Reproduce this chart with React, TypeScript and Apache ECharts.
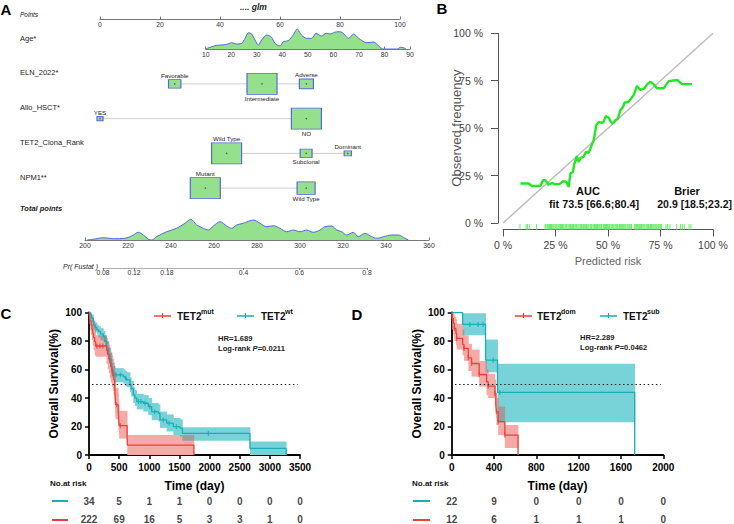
import React, { useEffect, useRef } from "react";
import * as echarts from "echarts";

const FONT = "'Liberation Sans', Arial, Helvetica, sans-serif";

// ---------------- Panel A : nomogram ----------------
const pointsRange = [0, 100];
const ageRange = [10, 90];
const totalRange = [200, 360];
const ageX = [10, 11.7, 14.3, 16.3, 18.2, 20.2, 22.1, 24.1, 25.4, 26.7, 28, 29.3, 30.6, 31.9, 33.9, 35.8, 37.1, 39.1, 40.4, 42.3, 44.3, 45.8, 47.5, 49.5, 51.4, 53.3, 55.3, 57.2, 58.7, 60.4, 62.3, 63.6, 66.0, 67.9, 69.9, 73.1, 75.7, 78.3, 79.6, 85.0, 86.3, 87.5, 88.5];
const ageDensity = [0, 1.7, 3.7, 4, 4.7, 6.3, 5, 5.7, 10.7, 16.3, 15, 9, 4, 9, 14, 11.7, 5.7, 3, 7.3, 8.3, 14, 20, 14, 10.7, 10.7, 15.7, 13, 15.7, 15, 16.7, 17.3, 16.3, 10.7, 15, 10.7, 6.3, 7, 1.5, 0, 0, 1.7, 1.2, 0];
const totalX = [201, 204.7, 208.5, 213.2, 218.6, 222.5, 224.8, 227.1, 229.5, 231, 233.3, 238, 242.6, 246.5, 249.2, 252, 255, 257.4, 259.7, 262.8, 265.9, 268.2, 270.5, 273.6, 278.3, 281.4, 284.5, 287.6, 290.7, 293.8, 296.9, 300, 303.1, 306.2, 309.3, 311.6, 314.7, 317.1, 319.4, 321.7, 324.8, 327.1, 330.2, 333.3, 335.7, 338.8, 342.6, 345.7, 348.8, 350.4];
const totalDensity = [0, 1, 2.3, 1.3, 1.7, 5, 7.7, 5, 0.7, 0, 3.3, 8.3, 11.7, 16.7, 20.7, 15, 11.7, 10, 14, 18.3, 14, 11.7, 15, 16.7, 20, 16.7, 13.3, 14.3, 11.7, 8.3, 10, 8.3, 10, 7.7, 10, 13.3, 14, 10, 8.3, 5, 7.7, 3.3, 6.7, 3.3, 1.7, 3.3, 5, 5, 1.7, 0];

const nomoRows = ["ELN_2022*", "Allo_HSCT*", "TET2_Clona_Rank", "NPM1**"];
const elnLevels = ["Favorable", "Intermediate", "Adverse"];
const elnPoints = [24.9, 54, 68.8];
const elnCounts = [31, 183, 40];
const alloLevels = ["YES", "NO"];
const alloPoints = [0, 68.8];
const alloCounts = [10, 246];
const tet2Levels = ["Wild Type", "Subclonal", "Dominant"];
const tet2Points = [42.2, 68.7, 82.6];
const tet2Counts = [222, 35, 13];
const npm1Levels = ["Mutant", "Wild Type"];
const npm1Points = [35.1, 68.7];
const npm1Counts = [188, 68];
const prTicks = [0.08, 0.12, 0.18, 0.4, 0.6, 0.8];

// ---------------- Panel B : calibration ----------------
const calibPred = [8.3, 12.2, 13.8, 17.8, 19.0, 20.2, 21.7, 23.3, 24.9, 27.0, 28.6, 30.2, 31.3, 32.1, 33.3, 34.0, 35.2, 36.0, 37.1, 38.4, 39.5, 40.8, 41.9, 43.2, 44.4, 45.6, 47.1, 47.9, 48.9, 50.3, 51.4, 52.4, 53.5, 54.6, 55.9, 57.0, 57.9, 59.8, 62.2, 63.8, 65.4, 67.3, 68.6, 70.2, 71.7, 73.3, 76.5, 78.9, 82.9, 85.2, 90.0];
const calibObs = [20.8, 20.8, 19.5, 19.5, 22.5, 22.5, 20.2, 21.1, 20.4, 20.6, 22.0, 21.7, 19.0, 26.1, 26.9, 31.3, 35.2, 32.2, 34.5, 34.9, 37.5, 37.0, 40.1, 43.7, 51.6, 53.3, 52.8, 53.3, 56.3, 55.6, 53.3, 52.5, 54.2, 54.8, 59.5, 60.9, 63.4, 63.9, 67.4, 72.2, 70.1, 71.0, 73.1, 74.5, 73.2, 71.0, 71.0, 74.8, 75.4, 73.2, 73.2];
const rugPred = [8.1, 11.0, 11.7, 12.7, 16.0, 20.0, 20.5, 21.1, 21.6, 22.2, 22.6, 23.1, 23.7, 24.2, 24.8, 25.3, 25.7, 26.3, 26.8, 27.4, 27.9, 28.3, 28.9, 29.5, 30.0, 30.4, 31.0, 31.6, 32.1, 32.5, 33.1, 33.6, 34.2, 34.7, 35.1, 35.7, 36.2, 36.8, 37.3, 37.7, 38.3, 38.9, 39.4, 39.8, 40.4, 40.9, 41.5, 42.0, 42.4, 43.0, 43.6, 44.1, 44.6, 45.0, 45.6, 46.1, 46.6, 47.0, 47.8, 48.3, 48.8, 49.3, 49.7, 50.3, 50.8, 51.4, 51.9, 52.3, 52.8, 53.4, 53.9, 54.4, 54.8, 55.4, 55.9, 56.5, 57.0, 57.5, 58.0, 58.5, 59.1, 59.6, 60.1, 60.6, 61.2, 62.5, 63.0, 63.5, 64.0, 64.6, 65.1, 65.6, 66.0, 66.6, 67.1, 67.6, 68.2, 68.7, 69.2, 69.6, 70.2, 70.7, 71.3, 71.8, 72.3, 72.8, 73.3, 73.9, 74.4, 74.9, 75.5, 77.6, 78.4, 79.5, 82.7, 84.6, 85.4, 86.3, 88.6, 89.5];

// ---------------- Panel C : KM TET2mut vs TET2wt ----------------
const redCTimes = [0, 10, 20, 35, 50, 62, 75, 95, 110, 290, 310, 330, 345, 360, 380, 395, 410, 425, 428, 431, 434, 437, 440, 485, 490, 495, 500, 632, 636, 1740];
const redCSurv = [100, 97.1, 94.1, 91.2, 88.2, 85.3, 82.4, 79.4, 76.5, 73.5, 70.6, 67.6, 64.7, 61.8, 58.8, 55.9, 52.9, 50.0, 47.1, 44.1, 41.2, 38.2, 35.3, 31.4, 27.5, 23.5, 20.6, 13.7, 6.9, 0];
const redCUpper = [100, 100, 99.5, 98.5, 97, 95.5, 93.5, 91.5, 84, 82, 80, 77.5, 75, 72.5, 70, 67.5, 65, 62.5, 59.5, 56.5, 53.5, 50.5, 47, 43, 39, 35, 31, 22, 14, 0];
const redCLower = [100, 92, 87.5, 84, 80.5, 77, 73.5, 70, 69, 64, 60.5, 57.5, 54, 51, 48, 45, 42, 39, 36, 33, 30, 27, 25, 21, 17.5, 14, 11.5, 6, 0, 0];
const cyanCTimes = [0, 20, 40, 72, 100, 130, 155, 190, 238, 265, 293, 320, 348, 376, 400, 431, 569, 600, 625, 680, 700, 735, 760, 791, 901, 984, 1040, 1150, 1177, 1288, 1399, 1509, 1550, 2670, 3270];
const cyanCSurv = [100, 98.5, 96, 91.4, 89.5, 88, 86.7, 85, 83.1, 80, 75, 71, 66.8, 59.7, 57.5, 56.2, 55, 53.8, 52.7, 49.2, 46.5, 42.2, 40, 37.5, 36.3, 34, 30.4, 29.3, 24.6, 22.3, 19.9, 18.8, 15.2, 4.7, 0];
const cyanCUpper = [100, 100, 98.5, 94.5, 93, 91.5, 90.5, 89, 87, 84, 79.5, 75.5, 71.5, 64.5, 62.5, 61, 60, 59, 58, 54.5, 52, 47.5, 45.5, 43, 42, 40, 36.5, 35.5, 30.5, 28.5, 26, 25, 19.5, 9.5, 0];
const cyanCLower = [100, 96.5, 93.5, 88, 86, 84.5, 82.5, 80.5, 79, 76, 70.5, 66.5, 62, 55, 52.5, 51, 50, 48.5, 47.5, 44, 41, 36.5, 34.5, 32, 30.5, 28, 24.5, 23.5, 19, 16.5, 14, 13, 10, 0, 0];
const redCCensor = [[130, 76.5], [180, 76.5], [230, 76.5], [385, 58.8], [460, 35.3], [520, 20.6]];
const cyanCCensor = [[450, 56.2], [520, 56.2], [610, 53.8], [820, 37.5], [860, 37.5], [930, 36.3], [1010, 34], [1090, 30.4], [1230, 24.6], [1330, 22.3], [1450, 19.9], [1980, 15.2]];
const riskTimesC = [0, 500, 1000, 1500, 2000, 2500, 3000, 3500];
const riskCyanC = [34, 5, 1, 1, 0, 0, 0, 0];
const riskRedC = [222, 69, 16, 5, 3, 3, 1, 0];

// ---------------- Panel D : KM TET2dom vs TET2sub ----------------
const redDTimes = [0, 6, 16, 25, 40, 47, 103, 116, 157, 188, 260, 329, 345, 408, 417, 423, 439, 502, 627];
const redDSurv = [100, 95.8, 92.3, 88.8, 85.3, 81.8, 77.6, 74.8, 68.2, 64.2, 56.5, 51.4, 48.3, 43.2, 35, 30.4, 23.4, 14, 0];
const redDUpper = [100, 100, 99, 97, 95, 92, 88, 84, 78, 74, 66, 60, 57, 53, 44, 40, 34, 21, 0];
const redDLower = [100, 88, 84, 80, 77, 74, 70, 66, 59, 55, 48, 42, 40, 35, 26, 21, 14, 5, 0];
const cyanDTimes = [0, 103, 320, 433, 1730];
const cyanDSurv = [100, 91.6, 66.6, 43.9, 0];
const cyanDUpper = [100, 99.5, 81, 64, 0];
const cyanDLower = [100, 84, 58, 23, 0];
const redDCensor = [[6, 95.8], [25, 88.8], [47, 81.8], [116, 74.8], [157, 68.2], [188, 64.2], [260, 56.5], [345, 48.3], [408, 43.2], [423, 30.4], [439, 23.4], [502, 14]];
const cyanDCensor = [[172, 91.6], [250, 91.6], [297, 91.6], [392, 66.6], [455, 43.9]];
const riskTimesD = [0, 400, 800, 1200, 1600, 2000];
const riskCyanD = [22, 9, 0, 0, 0, 0];
const riskRedD = [12, 6, 1, 1, 1, 0];

// ---------------- helpers ----------------
const RED = "#ee3f38";
const CYAN = "#18adb8";
const RED_BAND = "#f4aaa6";
const CYAN_BAND = "#78d3d9";
const OVERLAP = "#9c9c9c";
const BOX_FILL = "#94e08c";
const BOX_EDGE = "#5566e6";

const logit = (p: number) => Math.log(p / (1 - p));

function stepAt(times: number[], vals: number[], t: number) {
  let v = vals[0];
  for (let i = 0; i < times.length; i++) {
    if (times[i] <= t) v = vals[i];
    else break;
  }
  return v;
}
function bandData(times: number[], lo: number[], hi: number[]) {
  const out: number[][] = [];
  for (let i = 0; i < times.length - 1; i++) out.push([times[i], times[i + 1], lo[i], hi[i]]);
  return out;
}
function overlapData(tA: number[], loA: number[], hiA: number[], tB: number[], loB: number[], hiB: number[]) {
  const end = Math.min(tA[tA.length - 1], tB[tB.length - 1]);
  const bps = Array.from(new Set([...tA, ...tB])).filter((t) => t <= end).sort((a, b) => a - b);
  const out: number[][] = [];
  for (let i = 0; i < bps.length - 1; i++) {
    const t0 = bps[i];
    const lo = Math.max(stepAt(tA, loA, t0), stepAt(tB, loB, t0));
    const hi = Math.min(stepAt(tA, hiA, t0), stepAt(tB, hiB, t0));
    if (hi > lo) out.push([t0, bps[i + 1], lo, hi]);
  }
  return out;
}
function bandSeries(idx: number, data: number[][], color: string) {
  return {
    type: "custom",
    xAxisIndex: idx,
    yAxisIndex: idx,
    silent: true,
    encode: { x: [0, 1], y: [2, 3] },
    data,
    renderItem: (_p: any, api: any) => {
      const a = api.coord([api.value(0), api.value(3)]);
      const b = api.coord([api.value(1), api.value(2)]);
      return {
        type: "rect",
        shape: { x: a[0], y: a[1], width: b[0] - a[0] + 0.4, height: b[1] - a[1] },
        style: { fill: color },
      };
    },
  };
}
function kmLine(idx: number, times: number[], surv: number[], color: string, extra: any = {}) {
  return {
    type: "line",
    xAxisIndex: idx,
    yAxisIndex: idx,
    step: "end",
    symbol: "none",
    silent: true,
    data: times.map((t, i) => [t, surv[i]]),
    lineStyle: { color, width: 1.3 },
    ...extra,
  };
}
function censorSeries(idx: number, data: number[][], color: string) {
  return {
    type: "scatter",
    xAxisIndex: idx,
    yAxisIndex: idx,
    silent: true,
    symbol: "rect",
    symbolSize: [1.3, 5],
    itemStyle: { color },
    data,
  };
}
function riskSeries(idx: number, times: number[], vals: number[], row: string) {
  return {
    type: "scatter",
    xAxisIndex: idx,
    yAxisIndex: idx,
    silent: true,
    symbolSize: 1,
    itemStyle: { color: "rgba(0,0,0,0)" },
    encode: { x: 0, y: 1 },
    data: times.map((t, i) => [t, row, vals[i]]),
    label: {
      show: true,
      position: "inside",
      fontSize: 10,
      fontWeight: "bold",
      color: "#111",
      fontFamily: FONT,
      formatter: (p: any) => String(p.value[2]),
    },
  };
}
const hiddenX = (g: number, min: number, max: number) => ({ gridIndex: g, type: "value", min, max, show: false });
const hiddenY = (g: number, min: number, max: number) => ({ gridIndex: g, type: "value", min, max, show: false });

const nomoAxis = (g: number, min: number, max: number, interval: number) => ({
  gridIndex: g,
  type: "value",
  min,
  max,
  interval,
  axisLine: { show: true, onZero: false, lineStyle: { color: "#555", width: 0.8 } },
  axisTick: { show: true, inside: true, length: 2.5, lineStyle: { color: "#555", width: 0.8 } },
  axisLabel: { fontSize: 6.8, color: "#333", margin: 1.5, fontFamily: FONT, formatter: (v: number) => String(v) },
  splitLine: { show: false },
});

const kmX = (g: number, max: number, interval: number) => ({
  gridIndex: g,
  type: "value",
  min: 0,
  max,
  interval,
  axisLine: { show: true, onZero: false, lineStyle: { color: "#000", width: 1.8 } },
  axisTick: { show: true, length: 4, lineStyle: { color: "#000", width: 1.5 } },
  axisLabel: { fontSize: 10, fontWeight: "bold", color: "#000", margin: 7, fontFamily: FONT, formatter: (v: number) => String(v) },
  splitLine: { show: false },
  name: "Time (day)",
  nameLocation: "middle",
  nameGap: 25,
  nameMoveOverlap: false,
  nameTextStyle: { fontSize: 12, fontWeight: "bold", color: "#000", fontFamily: FONT },
});
const kmY = (g: number) => ({
  gridIndex: g,
  type: "value",
  min: 0,
  max: 100,
  interval: 20,
  axisLine: { show: true, onZero: false, lineStyle: { color: "#000", width: 1.8 } },
  axisTick: { show: true, length: 4, lineStyle: { color: "#000", width: 1.5 } },
  axisLabel: { fontSize: 10, fontWeight: "bold", color: "#000", margin: 7, fontFamily: FONT, formatter: (v: number) => String(v) },
  splitLine: { show: false },
  name: "Overall Survival(%)",
  nameLocation: "middle",
  nameGap: 29,
  nameMoveOverlap: false,
  nameTextStyle: { fontSize: 12, fontWeight: "bold", color: "#000", fontFamily: FONT },
});

function txt(x: number, y: number, text: string, o: any = {}) {
  return {
    type: "text",
    x,
    y,
    silent: true,
    style: {
      text,
      fontFamily: FONT,
      fontSize: o.fs ?? 8,
      fontWeight: o.fw ?? "normal",
      fontStyle: o.fi ?? "normal",
      fill: o.c ?? "#222",
      align: o.a ?? "left",
      verticalAlign: "middle",
      rich: o.rich,
    },
  };
}
function seg(x1: number, y1: number, x2: number, y2: number, color: string, w = 1.5) {
  return { type: "line", silent: true, shape: { x1, y1, x2, y2 }, style: { stroke: color, lineWidth: w } };
}

function buildOption() {
  // nomogram boxes
  const levelSets = [
    { levels: elnLevels, pts: elnPoints, n: elnCounts },
    { levels: alloLevels, pts: alloPoints, n: alloCounts },
    { levels: tet2Levels, pts: tet2Points, n: tet2Counts },
    { levels: npm1Levels, pts: npm1Points, n: npm1Counts },
  ];
  const boxes: any[] = [];
  const dots: any[] = [];
  const connectors: any[] = [];
  levelSets.forEach((s, r) => {
    const maxN = Math.max(...s.n);
    s.levels.forEach((lv, i) => {
      const k = Math.sqrt(s.n[i] / maxN);
      boxes.push({
        value: [s.pts[i], nomoRows[r]],
        symbolSize: [30 * k, 21 * k],
        label: { position: i % 2 === 0 ? "top" : "bottom", formatter: lv },
      });
      dots.push([s.pts[i], nomoRows[r]]);
    });
    connectors.push({
      type: "line",
      xAxisIndex: 2,
      yAxisIndex: 2,
      silent: true,
      symbol: "none",
      z: 1,
      lineStyle: { color: "#cfcfcf", width: 1 },
      data: [
        [Math.min(...s.pts), nomoRows[r]],
        [Math.max(...s.pts), nomoRows[r]],
      ],
    });
  });

  const grids = [
    { left: 100, top: 18, width: 300, height: 1 },
    { left: 205.7, top: 29, width: 204.3, height: 20 },
    { left: 100, top: 66.5, width: 300, height: 139 },
    { left: 85, top: 219, width: 344, height: 21 },
    { left: 103, top: 267, width: 264, height: 1 },
    { left: 503, top: 33.3, width: 210, height: 189.7 },
    { left: 503, top: 224, width: 210, height: 6 },
    { left: 89, top: 312.5, width: 211, height: 142.5 },
    { left: 89, top: 492, width: 211, height: 37 },
    { left: 451.7, top: 312.5, width: 211.6, height: 142.5 },
    { left: 451.7, top: 492, width: 211.6, height: 37 },
  ].map((g) => ({ ...g, containLabel: false, outerBoundsMode: "none" }));

  const prAxis = {
    gridIndex: 4,
    type: "value",
    min: logit(prTicks[0]),
    max: logit(prTicks[prTicks.length - 1]),
    axisLine: { show: true, onZero: false, lineStyle: { color: "#999", width: 0.8 } },
    axisTick: { show: true, length: 2, customValues: prTicks.map(logit), lineStyle: { color: "#666", width: 0.8 } },
    axisLabel: {
      fontSize: 6.8,
      color: "#333",
      margin: 1,
      fontFamily: FONT,
      customValues: prTicks.map(logit),
      formatter: (v: number) => {
        const t = prTicks.find((p) => Math.abs(logit(p) - v) < 1e-6);
        return t === undefined ? "" : String(t);
      },
    },
    splitLine: { show: false },
  };

  const bX = {
    gridIndex: 5,
    type: "value",
    min: 0,
    max: 100,
    interval: 25,
    offset: 6.5,
    axisLine: { show: true, onZero: false, lineStyle: { color: "#555", width: 1 } },
    axisTick: { show: true, length: 7, lineStyle: { color: "#555", width: 1 } },
    axisLabel: { fontSize: 10.5, color: "#444", margin: 10, fontFamily: FONT, formatter: (v: number) => v + " %" },
    splitLine: { show: false },
    name: "Predicted risk",
    nameLocation: "middle",
    nameGap: 26,
    nameMoveOverlap: false,
    nameTextStyle: { fontSize: 11, color: "#666", fontFamily: FONT },
  };
  const bY = {
    gridIndex: 5,
    type: "value",
    min: 0,
    max: 100,
    interval: 25,
    offset: 5,
    axisLine: { show: true, onZero: false, lineStyle: { color: "#555", width: 1 } },
    axisTick: { show: true, length: 7, lineStyle: { color: "#555", width: 1 } },
    axisLabel: { fontSize: 10.5, color: "#444", margin: 15, fontFamily: FONT, formatter: (v: number) => v + " %" },
    splitLine: { show: false },
    name: "Observed frequency",
    nameLocation: "middle",
    nameGap: 35,
    nameMoveOverlap: false,
    nameTextStyle: { fontSize: 13, color: "#555", fontFamily: FONT },
  };

  const xAxis = [
    nomoAxis(0, pointsRange[0], pointsRange[1], 20),
    nomoAxis(1, ageRange[0], ageRange[1], 10),
    hiddenX(2, pointsRange[0], pointsRange[1]),
    nomoAxis(3, totalRange[0], totalRange[1], 20),
    prAxis,
    bX,
    hiddenX(6, 0, 100),
    kmX(7, 3500, 500),
    hiddenX(8, 0, 3500),
    kmX(9, 2000, 400),
    hiddenX(10, 0, 2000),
  ];
  const yAxis = [
    hiddenY(0, 0, 1),
    hiddenY(1, 0, 20),
    { gridIndex: 2, type: "category", data: nomoRows, inverse: true, show: false },
    hiddenY(3, 0, 21),
    hiddenY(4, 0, 1),
    bY,
    hiddenY(6, -1, 1),
    kmY(7),
    { gridIndex: 8, type: "category", data: ["cyan", "red"], inverse: true, show: false },
    kmY(9),
    { gridIndex: 10, type: "category", data: ["cyan", "red"], inverse: true, show: false },
  ];

  const dotted = (x0: number, x1: number) => ({
    silent: true,
    symbol: "none",
    label: { show: false },
    lineStyle: { color: "#222", width: 1.2, type: [1.5, 2.6] },
    data: [[{ coord: [x0, 50] }, { coord: [x1, 50] }]],
  });

  const series: any[] = [
    // A
    {
      type: "line",
      xAxisIndex: 1,
      yAxisIndex: 1,
      silent: true,
      smooth: 0.3,
      symbol: "none",
      data: ageX.map((x, i) => [x, ageDensity[i]]),
      lineStyle: { color: BOX_EDGE, width: 1 },
      areaStyle: { color: BOX_FILL, opacity: 1 },
    },
    {
      type: "line",
      xAxisIndex: 3,
      yAxisIndex: 3,
      silent: true,
      smooth: 0.3,
      symbol: "none",
      data: totalX.map((x, i) => [x, totalDensity[i]]),
      lineStyle: { color: BOX_EDGE, width: 1 },
      areaStyle: { color: BOX_FILL, opacity: 1 },
    },
    ...connectors,
    {
      type: "scatter",
      xAxisIndex: 2,
      yAxisIndex: 2,
      silent: true,
      symbol: "rect",
      z: 3,
      itemStyle: { color: BOX_FILL, borderColor: BOX_EDGE, borderWidth: 1, opacity: 1 },
      label: { show: true, distance: 1, fontSize: 6.2, color: "#222", fontFamily: FONT },
      data: boxes,
    },
    {
      type: "scatter",
      xAxisIndex: 2,
      yAxisIndex: 2,
      silent: true,
      symbol: "circle",
      symbolSize: 1.4,
      z: 4,
      itemStyle: { color: "#333" },
      data: dots,
    },
    // B
    {
      type: "line",
      xAxisIndex: 5,
      yAxisIndex: 5,
      silent: true,
      symbol: "none",
      data: [
        [0, 0],
        [100, 100],
      ],
      lineStyle: { color: "#bdbdbd", width: 1.5 },
    },
    {
      type: "line",
      xAxisIndex: 5,
      yAxisIndex: 5,
      silent: true,
      symbol: "none",
      data: calibPred.map((p, i) => [p, calibObs[i]]),
      lineStyle: { color: "#22e822", width: 2.4 },
    },
    {
      type: "scatter",
      xAxisIndex: 6,
      yAxisIndex: 6,
      silent: true,
      symbol: "rect",
      symbolSize: [1, 6],
      itemStyle: { color: "#3ee83e" },
      data: rugPred.map((p) => [p, 0]),
    },
    // C
    bandSeries(7, bandData(cyanCTimes, cyanCLower, cyanCUpper), CYAN_BAND),
    bandSeries(7, bandData(redCTimes, redCLower, redCUpper), RED_BAND),
    bandSeries(7, overlapData(cyanCTimes, cyanCLower, cyanCUpper, redCTimes, redCLower, redCUpper), OVERLAP),
    kmLine(7, cyanCTimes, cyanCSurv, CYAN),
    kmLine(7, redCTimes, redCSurv, RED, { markLine: dotted(50, 3460) }),
    censorSeries(7, cyanCCensor, CYAN),
    censorSeries(7, redCCensor, RED),
    riskSeries(8, riskTimesC, riskCyanC, "cyan"),
    riskSeries(8, riskTimesC, riskRedC, "red"),
    // D
    bandSeries(9, bandData(cyanDTimes, cyanDLower, cyanDUpper), CYAN_BAND),
    bandSeries(9, bandData(redDTimes, redDLower, redDUpper), RED_BAND),
    bandSeries(9, overlapData(cyanDTimes, cyanDLower, cyanDUpper, redDTimes, redDLower, redDUpper), OVERLAP),
    kmLine(9, cyanDTimes, cyanDSurv, CYAN),
    kmLine(9, redDTimes, redDSurv, RED, { markLine: dotted(31, 1976) }),
    censorSeries(9, cyanDCensor, CYAN),
    censorSeries(9, redDCensor, RED),
    riskSeries(10, riskTimesD, riskCyanD, "cyan"),
    riskSeries(10, riskTimesD, riskRedD, "red"),
  ];

  const rowY = (i: number) => 66.5 + (139 / 4) * (i + 0.5) - 11;
  const hrRich = {
    a: { fontSize: 7.6, fontWeight: "bold", fill: "#222", fontFamily: FONT },
    i: { fontSize: 7.6, fontWeight: "bold", fontStyle: "italic", fill: "#222", fontFamily: FONT },
  };
  const graphic: any[] = [
    txt(6, 9, "A", { fs: 15, fw: "bold", c: "#000", a: "center" }),
    txt(240, 7, ".... glm", { fs: 8.5, fw: "bold", fi: "italic" }),
    txt(20, 14.3, "Points", { fs: 6.5, fi: "italic" }),
    txt(20, 38.3, "Age*", { fs: 7.5 }),
    ...nomoRows.map((r, i) => txt(20, rowY(i), r, { fs: 7.5 })),
    txt(20, 208.7, "Total points", { fs: 7.5, fw: "bold", fi: "italic" }),
    txt(63, 266.3, "Pr( Fustat )", { fs: 7, fi: "italic" }),
    txt(442, 8, "B", { fs: 15, fw: "bold", c: "#000", a: "center" }),
    txt(588, 191, "AUC", { fs: 11, fw: "bold", c: "#111", a: "center" }),
    txt(594, 203.5, "fit 73.5 [66.6;80.4]", { fs: 10.8, fw: "bold", c: "#111", a: "center" }),
    txt(687, 191, "Brier", { fs: 11, fw: "bold", c: "#111", a: "center" }),
    txt(732, 203.5, "20.9 [18.5;23.2]", { fs: 10.5, fw: "bold", c: "#111", a: "right" }),
    txt(6, 313, "C", { fs: 15, fw: "bold", c: "#000", a: "center" }),
    txt(357, 314, "D", { fs: 15, fw: "bold", c: "#000", a: "center" }),
    // C legend
    seg(154, 316, 171, 316, RED),
    seg(162.5, 313, 162.5, 318, RED, 1.2),
    txt(177, 316.5, "TET2", { fs: 10, fw: "bold", c: "#111" }),
    txt(201, 311.5, "mut", { fs: 7, fw: "bold", c: "#111" }),
    seg(237, 316, 254, 316, CYAN),
    seg(245.5, 313, 245.5, 318, CYAN, 1.2),
    txt(261, 316.5, "TET2", { fs: 10, fw: "bold", c: "#111" }),
    txt(285, 311.5, "wt", { fs: 7, fw: "bold", c: "#111" }),
    txt(218, 338, "HR=1.689", { fs: 7.6, fw: "bold" }),
    txt(218, 348, "{a|Log-rank }{i|P}{a|=0.0211}", { rich: hrRich }),
    txt(50, 483, "No.at risk", { fs: 8, fw: "bold", c: "#111" }),
    seg(52, 501, 68, 501, CYAN, 2),
    seg(52, 520, 68, 520, RED, 2),
    // D legend
    seg(515, 316, 532, 316, RED),
    seg(523.5, 313, 523.5, 318, RED, 1.2),
    txt(537, 316.5, "TET2", { fs: 10, fw: "bold", c: "#111" }),
    txt(561, 311.5, "dom", { fs: 7, fw: "bold", c: "#111" }),
    seg(600, 316, 617, 316, CYAN),
    seg(608.5, 313, 608.5, 318, CYAN, 1.2),
    txt(623, 316.5, "TET2", { fs: 10, fw: "bold", c: "#111" }),
    txt(647, 311.5, "sub", { fs: 7, fw: "bold", c: "#111" }),
    txt(580, 337, "HR=2.289", { fs: 7.6, fw: "bold" }),
    txt(580, 347, "{a|Log-rank }{i|P}{a|=0.0462}", { rich: hrRich }),
    txt(412, 483, "No.at risk", { fs: 8, fw: "bold", c: "#111" }),
    seg(413, 501, 430, 501, CYAN, 2),
    seg(413, 520, 430, 520, RED, 2),
  ];

  return {
    animation: false,
    backgroundColor: "#fff",
    textStyle: { fontFamily: FONT },
    grid: grids,
    xAxis,
    yAxis,
    series,
    graphic,
  };
}

export default function App() {
  const ref = useRef<HTMLDivElement>(null);
  useEffect(() => {
    if (!ref.current) return;
    const chart = echarts.init(ref.current, undefined, { renderer: "svg" });
    chart.setOption(buildOption() as any);
    return () => chart.dispose();
  }, []);
  return (
    <div
      ref={ref}
      style={{ position: "fixed", left: 0, top: 0, width: 734, height: 524, background: "#fff" }}
    />
  );
}
